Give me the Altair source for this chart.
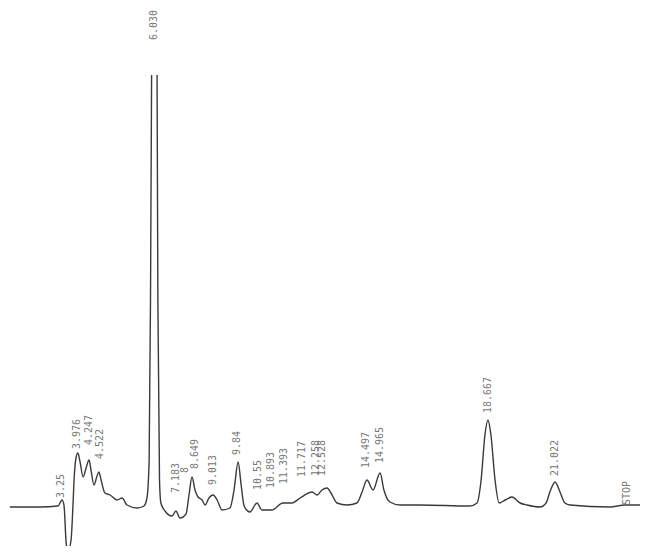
import altair as alt
import pandas as pd

# Chromatogram trace: retention time (min) and detector signal (arbitrary units)
rt = [1.48, 2.58, 3.24, 3.39, 3.46, 3.55, 3.63, 3.72, 3.79, 3.83, 3.90, 3.97, 4.05,
      4.16, 4.27, 4.38, 4.45, 4.56, 4.67, 4.74, 4.82, 4.96, 5.15, 5.40, 5.59, 5.77,
      6.14, 6.39, 6.50, 6.58, 6.63, 6.67,
      6.87, 6.90, 6.96, 7.01, 7.16, 7.42, 7.56, 7.71, 7.93, 8.04, 8.15, 8.26, 8.37,
      8.52, 8.63, 8.77, 8.92, 9.07, 9.25, 9.54, 9.69, 9.84, 9.95, 10.06, 10.27,
      10.53, 10.71, 11.08, 11.48, 11.81, 12.11, 12.55, 12.73, 12.91, 13.10, 13.24,
      13.46, 13.83, 14.19, 14.38, 14.56, 14.78, 15.04, 15.18, 15.40, 15.77, 16.50,
      18.33, 18.59, 18.74, 18.88, 18.99, 19.10, 19.25, 19.40, 19.62, 19.87, 20.17,
      20.42, 20.90, 21.12, 21.26, 21.45, 21.63, 21.81, 22.00, 23.46, 24.01, 24.56]
signal = [0, 0, 1, 7, 2, -38, -42, -33, 2, 27, 49, 54, 45,
          30, 39, 47, 37, 22, 31, 35, 27, 14, 12, 7, 9, 2,
          -1, 1, 9, 47, 207, 432,
          432, 207, 27, 4, -4, -9, -4, -11, -7, 12, 30, 17, 10,
          7, 2, 9, 12, 7, -3, -1, 17, 45, 22, 1, -5,
          4, -3, -3, 4, 4, 9, 15, 12, 17, 19, 14,
          4, 2, 4, 15, 27, 17, 34, 17, 5, 2, 2,
          1, 4, 27, 72, 87, 72, 27, 4, 7, 10, 4,
          2, 0, 4, 15, 25, 15, 4, 2, 0, 2, 2]
# pen trace pieces (the main peak runs off the top of the paper)
segment = [0] * 32 + [1] * (len(rt) - 32)

# Peak annotations printed by the integrator
label_text = ["3.25", "3.976", "4.247", "4.522", "6.030", "7.183", "8", "8.649",
              "9.013", "9.84", "10.55", "10.893", "11.393", "11.717", "12.258",
              "12.528", "14.497", "14.965", "18.667", "21.022", "STOP"]
label_rt = [3.35, 3.94, 4.38, 4.78, 6.76, 7.56, 7.89, 8.26,
            8.92, 9.80, 10.57, 11.04, 11.52, 12.18, 12.69,
            12.91, 14.52, 15.04, 18.99, 21.45, 24.08]
label_pos = [9, 58, 62, 48, 467, 14, 34, 38,
             22, 52, 17, 19, 23, 30, 31,
             31, 39, 44, 94, 31, 2]

trace = pd.DataFrame({"rt": rt, "signal": signal, "segment": segment})
labels = pd.DataFrame({"text": label_text, "rt": label_rt, "pos": label_pos})

xs = alt.Scale(domain=[1.41, 24.89], nice=False, zero=False)
ys = alt.Scale(domain=[-39, 499], nice=False, zero=False)

line = alt.Chart(trace).mark_line(
    color="#3a3a3a", strokeWidth=1.4, interpolate="monotone", clip=True
).encode(
    x=alt.X("rt:Q", scale=xs, axis=None),
    y=alt.Y("signal:Q", scale=ys, axis=None),
    detail="segment:N",
)

text = alt.Chart(labels).mark_text(
    angle=270, align="left", baseline="middle",
    font="DejaVu Sans Mono", fontSize=10, color="#777777"
).encode(
    x=alt.X("rt:Q", scale=xs, axis=None),
    y=alt.Y("pos:Q", scale=ys, axis=None),
    text="text:N",
)

chart = alt.layer(line, text).properties(
    width=641, height=538, padding=0, background="white"
).configure_view(stroke=None)

chart.save("out.html", embed_options={"renderer": "svg", "actions": False})
